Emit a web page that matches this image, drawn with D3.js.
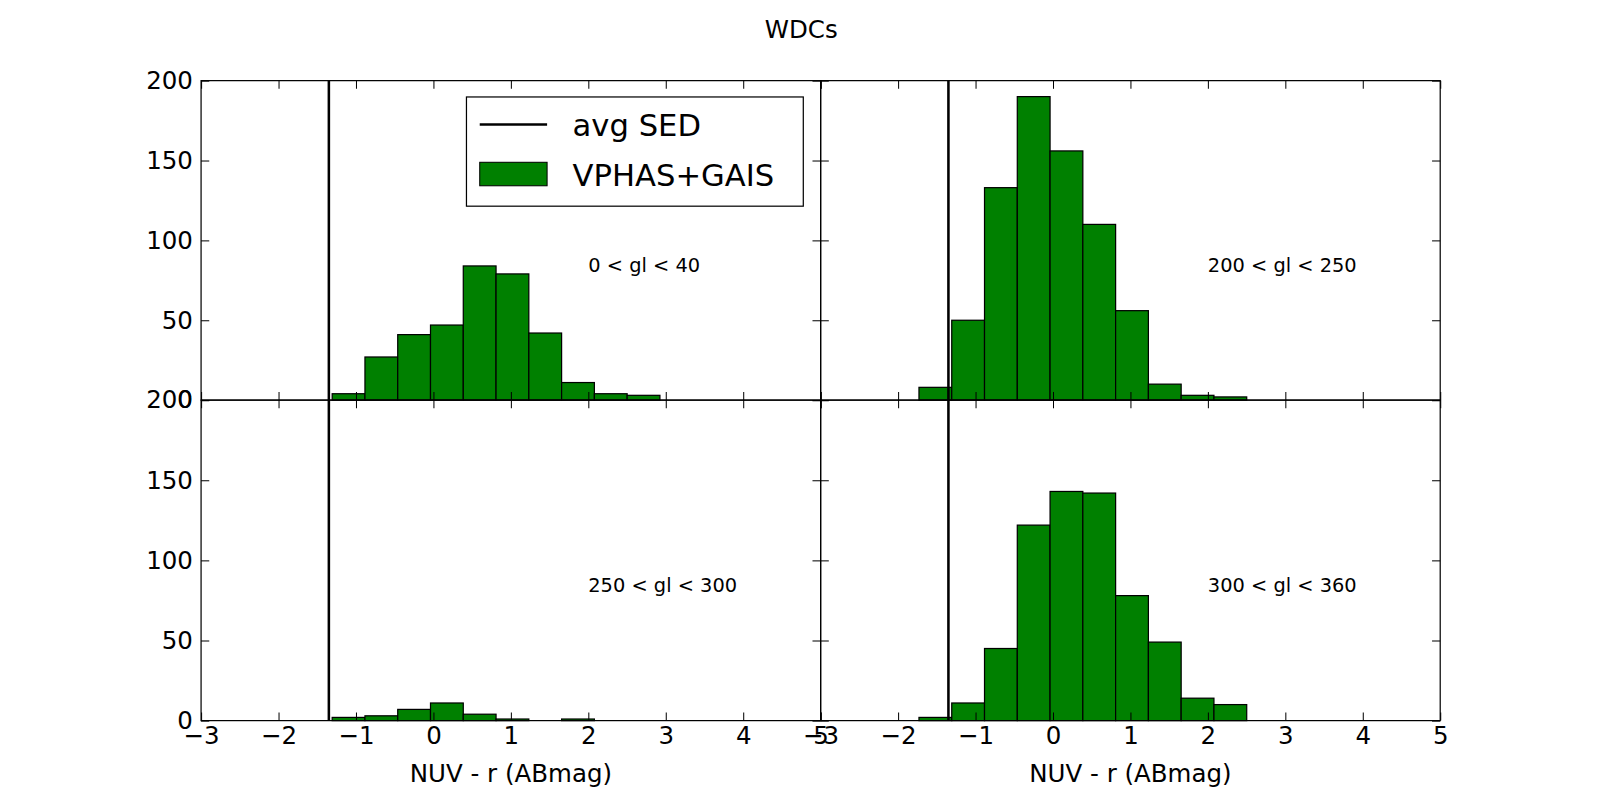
<!DOCTYPE html>
<html><head><meta charset="utf-8">
<script src="https://cdn.jsdelivr.net/npm/d3@7"></script>
<style>body{margin:0;background:#fff}text{font-family:"DejaVu Sans",sans-serif}</style>
</head><body><svg id="c" width="1600" height="800"></svg>
<script>
const binStart = -3, binWidth = 0.4232;
const panelLabels = ["0 < gl < 40", "200 < gl < 250", "250 < gl < 300", "300 < gl < 360"];
const counts0 = [0,0,0,0,4,27,41,47,84,79,42,11,4,3];
const counts1 = [0,0,0,8,50,133,190,156,110,56,10,3,2,0];
const counts2 = [0,0,0,0,2,3,7,11,4,1,0,1,0,0];
const counts3 = [0,0,0,2,11,45,122,143,142,78,49,14,10,0];
const avgSED = -1.35;
const xTicks = [-3,-2,-1,0,1,2,3,4,5];
const yTicks = [0,50,100,150,200];
const allCounts = [counts0, counts1, counts2, counts3];

const svg = d3.select("#c").append("g").attr("transform","scale(1.0207)");
const L = [197, 804], R = [804, 1411], T = [79, 392], B = [392, 706];
const panels = [[L,T],[R,T],[L,B],[R,B]];

svg.append("text").attr("x", 785).attr("y", 37).attr("text-anchor","middle").attr("font-size",24).text("WDCs");

panels.forEach(([xr, yr], i) => {
  const x = d3.scaleLinear().domain([-3,5]).range(xr);
  const y = d3.scaleLinear().domain([0,200]).range([yr[1], yr[0]]);
  const g = svg.append("g");
  const bins = allCounts[i].map((c,k)=>({x0: binStart + k*binWidth, x1: binStart + (k+1)*binWidth, c}));
  g.selectAll("rect").data(bins).enter().append("rect")
    .attr("x", d=>x(d.x0)).attr("width", d=>x(d.x1)-x(d.x0))
    .attr("y", d=>y(d.c)).attr("height", d=>y(0)-y(d.c))
    .attr("fill","#008000").attr("stroke","#000").attr("stroke-width",1.2);
  g.append("line").attr("x1", x(avgSED)).attr("x2", x(avgSED)).attr("y1", y(0)).attr("y2", y(200))
    .attr("stroke","#000").attr("stroke-width",2.5);
  const axB = d3.axisBottom(x).tickValues(xTicks).tickSizeInner(-8).tickSizeOuter(0).tickPadding(6);
  const axT = d3.axisTop(x).tickValues(xTicks).tickSizeInner(-8).tickSizeOuter(0).tickFormat("");
  const axLf = d3.axisLeft(y).tickValues(yTicks).tickSizeInner(-8).tickSizeOuter(0).tickPadding(8);
  const axRt = d3.axisRight(y).tickValues(yTicks).tickSizeInner(-8).tickSizeOuter(0).tickFormat("");
  const bottom = i >= 2, left = i % 2 === 0;
  if (!bottom) axB.tickFormat("");
  else axB.tickFormat(d => d < 0 ? "\u2212" + Math.abs(d) : d);
  if (!left) axLf.tickFormat("");
  [[axB,`translate(0,${yr[1]})`],[axT,`translate(0,${yr[0]})`],[axLf,`translate(${xr[0]},0)`],[axRt,`translate(${xr[1]},0)`]]
    .forEach(([a,t]) => {
      const ag = g.append("g").attr("transform", t).call(a);
      ag.selectAll("text").attr("font-size", 24).attr("fill","#000").style("font-family","DejaVu Sans");
      ag.selectAll("line").attr("stroke","#000");
      ag.select(".domain").remove();
    });
  g.append("rect").attr("x", xr[0]).attr("y", yr[0]).attr("width", xr[1]-xr[0]).attr("height", yr[1]-yr[0])
    .attr("fill","none").attr("stroke","#000").attr("stroke-width",1.2);
  g.append("text").attr("x", x(2)).attr("y", y(80)).attr("font-size", 19).text(panelLabels[i]);
  if (bottom) g.append("text").attr("x", (xr[0]+xr[1])/2).attr("y", 766).attr("text-anchor","middle")
    .attr("font-size", 24).text("NUV - r (ABmag)");
  if (i === 0) {
    const lg = g.append("g");
    lg.append("rect").attr("x",457).attr("y",95).attr("width",330).attr("height",107).attr("fill","#fff").attr("stroke","#000").attr("stroke-width",1.2);
    lg.append("line").attr("x1",470).attr("x2",536).attr("y1",122).attr("y2",122).attr("stroke","#000").attr("stroke-width",2.5);
    lg.append("text").attr("x",561).attr("y",133).attr("font-size",30).text("avg SED");
    lg.append("rect").attr("x",470).attr("y",159).attr("width",66).attr("height",23).attr("fill","#008000").attr("stroke","#000");
    lg.append("text").attr("x",561).attr("y",182).attr("font-size",30).text("VPHAS+GAIS");
  }
});
</script></body></html>
